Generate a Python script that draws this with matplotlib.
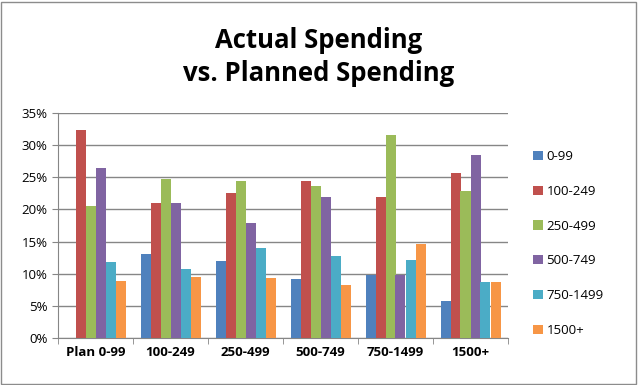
import numpy as np
import matplotlib.pyplot as plt
from matplotlib.patches import Rectangle

# categories and series (values in %)
categories = ['Plan 0-99', '100-249', '250-499', '500-749', '750-1499', '1500+']
series_names = ['0-99', '100-249', '250-499', '500-749', '750-1499', '1500+']
s_0_99 = [0.0, 13.1, 12.0, 9.2, 9.8, 5.7]
s_100_249 = [32.3, 21.0, 22.5, 24.5, 21.9, 25.7]
s_250_499 = [20.5, 24.7, 24.5, 23.7, 31.6, 22.9]
s_500_749 = [26.5, 21.0, 17.9, 21.9, 9.8, 28.5]
s_750_1499 = [11.8, 10.8, 14.0, 12.8, 12.1, 8.7]
s_1500 = [8.8, 9.5, 9.3, 8.2, 14.6, 8.7]
series = [s_0_99, s_100_249, s_250_499, s_500_749, s_750_1499, s_1500]
colors = ['#4F81BD', '#C0504D', '#9BBB59', '#8064A2', '#4BACC6', '#F79646']

plt.rcParams['font.family'] = ['Open Sans', 'DejaVu Sans']

fig = plt.figure(figsize=(6.38, 3.85), dpi=100)
fig.patches.append(Rectangle((0.002, 0.003), 0.995, 0.993, transform=fig.transFigure,
                             fill=False, edgecolor='#8c8c8c', linewidth=1.0))

ax = fig.add_axes([58 / 638, 1 - 338 / 385, 450 / 638, 225 / 385])

x = np.arange(len(categories))
w = 0.8 / 6
for i, (name, vals) in enumerate(zip(series_names, series)):
    ax.bar(x - 0.4 + w * (i + 0.5), vals, width=w, color=colors[i], label=name, zorder=3)

ax.set_xlim(-0.5, len(categories) - 0.5)
ax.set_ylim(0, 35)
ax.set_yticks(np.arange(0, 36, 5))
ax.set_yticklabels([f'{v}%' for v in range(0, 36, 5)], fontsize=9.5)
ax.set_xticks(x)
ax.set_xticklabels(categories, fontsize=9.5, fontweight='bold')
ax.set_xticks(np.arange(-0.5, len(categories)), minor=True)
ax.tick_params(axis='x', which='major', length=0, pad=6)
ax.tick_params(axis='x', which='minor', length=4, color='#868686', direction='out')
ax.tick_params(axis='y', length=4, color='#868686', direction='out')
ax.yaxis.grid(True, color='#868686', linewidth=1, zorder=0)
for s in ['top', 'right']:
    ax.spines[s].set_visible(False)
for s in ['left', 'bottom']:
    ax.spines[s].set_color('#868686')

fig.text(0.5, 0.852, 'Actual Spending\nvs. Planned Spending', ha='center', va='center',
         fontsize=18.5, fontweight='bold', linespacing=1.3)

ax.legend(loc='center left', bbox_to_anchor=(1.03, 0.42), frameon=False, fontsize=9.5,
          handlelength=0.7, handleheight=0.7, handletextpad=0.3, labelspacing=1.65)

fig.savefig('out.png', dpi=100)
